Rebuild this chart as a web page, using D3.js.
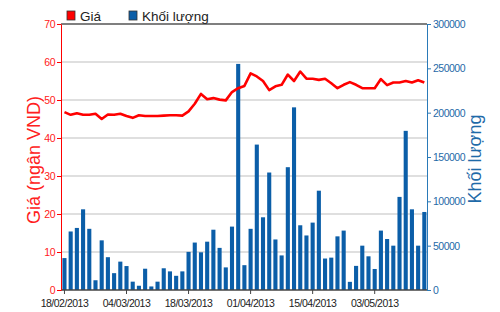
<!DOCTYPE html>
<meta charset="utf-8">
<style>

body {
  margin: 0;
  background: #fff;
}

svg {
  display: block;
  font-family: "Liberation Sans", Arial, sans-serif;
}

.grid line {
  stroke: #d4d4d4;
  stroke-width: 1.5px;
}

.bar {
  fill: #0b5ea8;
}

.line {
  fill: none;
  stroke: #ff0000;
  stroke-width: 2.6px;
  stroke-linejoin: round;
}

.tick text {
  letter-spacing: -0.5px;
}

</style>
<svg width="500" height="312"></svg>
<script src="https://d3js.org/d3.v7.min.js"></script>
<script>

// trading days shown on the chart
var dates = [
  "18/02/2013", "19/02/2013", "20/02/2013", "21/02/2013", "22/02/2013",
  "25/02/2013", "26/02/2013", "27/02/2013", "28/02/2013", "01/03/2013",
  "04/03/2013", "05/03/2013", "06/03/2013", "07/03/2013", "08/03/2013",
  "11/03/2013", "12/03/2013", "13/03/2013", "14/03/2013", "15/03/2013",
  "18/03/2013", "19/03/2013", "20/03/2013", "21/03/2013", "22/03/2013",
  "25/03/2013", "26/03/2013", "27/03/2013", "28/03/2013", "29/03/2013",
  "01/04/2013", "02/04/2013", "03/04/2013", "04/04/2013", "05/04/2013",
  "08/04/2013", "09/04/2013", "10/04/2013", "11/04/2013", "12/04/2013",
  "15/04/2013", "16/04/2013", "17/04/2013", "18/04/2013",
  "22/04/2013", "23/04/2013", "24/04/2013", "25/04/2013", "26/04/2013",
  "02/05/2013", "03/05/2013",
  "06/05/2013", "07/05/2013", "08/05/2013", "09/05/2013", "10/05/2013",
  "13/05/2013", "14/05/2013", "15/05/2013"
];

// giá (ngàn VND)
var price = [
  46.8, 46.1, 46.5, 46.1, 46.1, 46.4, 45.0, 46.2, 46.1, 46.4,
  45.8, 45.3, 46.0, 45.8, 45.8, 45.8, 45.9, 46.0, 46.0, 45.9,
  47.0, 49.0, 51.6, 50.2, 50.5, 50.1, 49.9, 52.1, 53.1, 53.7,
  57.0, 56.2, 55.0, 52.6, 53.6, 54.0, 56.7, 55.0, 57.5, 55.6,
  55.6, 55.3, 55.6, 54.4, 53.1, 54.0, 54.7, 54.0, 53.1, 53.1,
  53.1, 55.5, 53.9, 54.6, 54.6, 55.0, 54.6, 55.2, 54.6
];

// khối lượng
var volume = [
  36000, 66000, 70000, 91000, 69000, 11000, 56000, 37000, 19000, 32000,
  27000, 9400, 4800, 24000, 4000, 9400, 24500, 21000, 16000, 21000,
  43000, 53500, 42500, 54500, 68000, 47500, 25500, 71500, 255000, 28000,
  69000, 164000, 82000, 132500, 57000, 39000, 138500, 206000, 73000, 61500,
  76000, 112000, 35500, 36500, 60500, 67000, 9200, 27200, 50000, 38000,
  23700, 67000, 57500, 50000, 105000, 179500, 91000, 50000, 88000
];

var xTicks = ["18/02/2013", "04/03/2013", "18/03/2013", "01/04/2013", "15/04/2013", "03/05/2013"];
var priceTicks = [0, 10, 20, 30, 40, 50, 60, 70];
var volumeTicks = [0, 50000, 100000, 150000, 200000, 250000, 300000];

var svg = d3.select("svg"),
    plotLeft = 61, plotRight = 427, plotTop = 24, plotBottom = 290;

var x = d3.scaleBand()
    .domain(dates)
    .range([plotLeft + 0.8, plotRight])
    .paddingInner(0.34)
    .paddingOuter(0.1);

var yPrice = d3.scaleLinear().domain([0, 70]).range([plotBottom, plotTop]);
var yVol = d3.scaleLinear().domain([0, 300000]).range([plotBottom, plotTop]);

// gridlines
svg.append("g")
    .attr("class", "grid")
  .selectAll("line")
  .data(priceTicks.slice(1, -1))
  .enter().append("line")
    .attr("x1", plotLeft)
    .attr("x2", plotRight)
    .attr("y1", function(d) { return yPrice(d); })
    .attr("y2", function(d) { return yPrice(d); });

// top border
svg.append("line")
    .attr("x1", plotLeft).attr("x2", plotRight)
    .attr("y1", plotTop).attr("y2", plotTop)
    .attr("stroke", "#555").attr("stroke-width", 1.5);

svg.selectAll(".bar")
  .data(volume)
  .enter().append("rect")
    .attr("class", "bar")
    .attr("x", function(d, i) { return x(dates[i]); })
    .attr("width", x.bandwidth())
    .attr("y", function(d) { return yVol(d); })
    .attr("height", function(d) { return plotBottom - yVol(d); });

var line = d3.line()
    .x(function(d, i) { return x(dates[i]) + x.bandwidth() / 2; })
    .y(function(d) { return yPrice(d); });

svg.append("path")
    .datum(price)
    .attr("class", "line")
    .attr("d", line);

// bottom axis
var xAxis = svg.append("g")
    .attr("transform", "translate(0," + plotBottom + ")")
    .call(d3.axisBottom(x).tickValues(xTicks).tickSizeOuter(0).tickSize(4).tickPadding(4));
xAxis.select(".domain").attr("stroke", "#444").attr("stroke-width", 1.5)
    .attr("d", "M" + plotLeft + ",0H" + plotRight);
xAxis.selectAll(".tick line").attr("stroke", "#444");
xAxis.selectAll("text").attr("fill", "#222").style("font-size", "10.5px").attr("dy", "0.9em");

// left axis
var yAxisL = svg.append("g")
    .attr("transform", "translate(" + plotLeft + ",0)")
    .call(d3.axisLeft(yPrice).tickValues(priceTicks).tickSize(4).tickSizeOuter(0).tickPadding(2));
yAxisL.select(".domain").attr("stroke", "#ff0000");
yAxisL.selectAll(".tick line").attr("stroke", "#ff0000");
yAxisL.selectAll("text").attr("fill", "#ff2020").style("font-size", "10.5px");

// right axis
var yAxisR = svg.append("g")
    .attr("transform", "translate(" + plotRight + ",0)")
    .call(d3.axisRight(yVol).tickValues(volumeTicks).tickFormat(d3.format("d")).tickSize(4).tickSizeOuter(0).tickPadding(2));
yAxisR.select(".domain").attr("stroke", "#2a7ab8");
yAxisR.selectAll(".tick line").attr("stroke", "#2a7ab8");
yAxisR.selectAll("text").attr("fill", "#1f6aa8").style("font-size", "10.5px");

// axis titles
svg.append("text")
    .attr("transform", "translate(40,160) rotate(-90)")
    .attr("text-anchor", "middle")
    .attr("fill", "#ff2020")
    .style("font-size", "18px")
    .text("Giá (ngân VND)");

svg.append("text")
    .attr("transform", "translate(481,159) rotate(-90)")
    .attr("text-anchor", "middle")
    .attr("fill", "#1f6aa8")
    .style("font-size", "18px")
    .text("Khối lượng");

// legend
var legend = [
  {name: "Giá", color: "#ff0000", x: 67},
  {name: "Khối lượng", color: "#0b5ea8", x: 129}
];

var lg = svg.selectAll(".legend")
  .data(legend)
  .enter().append("g")
    .attr("class", "legend")
    .attr("transform", function(d) { return "translate(" + d.x + ",11)"; });

lg.append("rect")
    .attr("width", 8)
    .attr("height", 9)
    .attr("fill", function(d) { return d.color; })
    .attr("stroke", "#333")
    .attr("stroke-width", 0.8);

lg.append("text")
    .attr("x", 13)
    .attr("y", 9.5)
    .attr("fill", "#222")
    .style("font-size", "13.5px")
    .text(function(d) { return d.name; });

</script>
